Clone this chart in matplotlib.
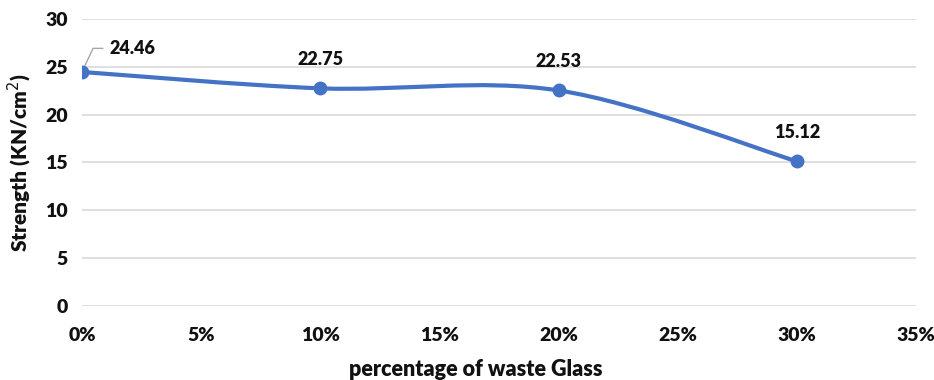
import matplotlib
matplotlib.use("Agg")
import matplotlib.pyplot as plt
import numpy as np
from matplotlib.path import Path
from matplotlib.patches import PathPatch

plt.rcParams['font.family'] = ['Lato', 'DejaVu Sans']

# Data
glass_pct = [0, 10, 20, 30]
strength = [24.46, 22.75, 22.53, 15.12]
x_ticks = [0, 5, 10, 15, 20, 25, 30, 35]
y_ticks = [0, 5, 10, 15, 20, 25, 30]

blue = '#4472C4'
grid_col = '#D9D9D9'
text_col = '#111111'
wt = 'heavy'

fig = plt.figure(figsize=(9.34, 3.80), dpi=100)
ax = fig.add_axes([0.0878, 0.195, 0.893, 0.755])

# smoothed line (Excel-style bezier through the points)
pts = np.column_stack([glass_pct, strength]).astype(float)
verts = [pts[0]]
codes = [Path.MOVETO]
n = len(pts)
for i in range(n - 1):
    p0 = pts[i - 1] if i > 0 else pts[i]
    p1 = pts[i]
    p2 = pts[i + 1]
    p3 = pts[i + 2] if i + 2 < n else pts[i + 1]
    c1 = p1 + (p2 - p0) / 6.0
    c2 = p2 - (p3 - p1) / 6.0
    verts += [c1, c2, p2]
    codes += [Path.CURVE4] * 3
ax.add_patch(PathPatch(Path(verts, codes), facecolor='none', edgecolor=blue,
                       lw=3, capstyle='round', zorder=3))
ax.plot(glass_pct, strength, 'o', color=blue, ms=9, zorder=4)

# data labels
for i, (x, y) in enumerate(zip(glass_pct, strength)):
    if i == 0:
        ax.annotate(f'{y:.2f}', xy=(x, y), xytext=(20, 17), textcoords='offset points',
                    fontsize=13, fontweight=wt, color=text_col, ha='left', va='center',
                    arrowprops=dict(arrowstyle='-', color='#A6A6A6', lw=1,
                                    connectionstyle='angle,angleA=0,angleB=65,rad=0',
                                    shrinkA=3, shrinkB=3))
    else:
        ax.annotate(f'{y:.2f}', xy=(x, y), xytext=(0, 20.5), textcoords='offset points',
                    fontsize=13, fontweight=wt, color=text_col, ha='center', va='center')

ax.set_xlim(0, 35)
ax.set_ylim(0, 30)
ax.set_xticks(x_ticks)
ax.set_xticklabels([f'{t}%' for t in x_ticks])
ax.set_yticks(y_ticks)
ax.yaxis.grid(True, color=grid_col, lw=1.2)
ax.set_axisbelow(True)
for s in ax.spines.values():
    s.set_visible(False)
ax.tick_params(length=0, labelsize=14, colors=text_col, pad=15)
ax.tick_params(axis='y', pad=10)
for lbl in ax.get_xticklabels() + ax.get_yticklabels():
    lbl.set_fontweight(wt)

ax.set_xlabel('percentage of waste Glass', fontsize=15.5, fontweight=wt,
              color=text_col, va='center', ha='center')
ax.xaxis.set_label_coords(0.472, -0.223)
ax.set_ylabel('Strength (KN/cm$^2$)', fontsize=15, fontweight=wt,
              color=text_col, va='center', ha='center')
ax.yaxis.set_label_coords(-0.0743, 0.5)

fig.savefig('out.png', dpi=100)
